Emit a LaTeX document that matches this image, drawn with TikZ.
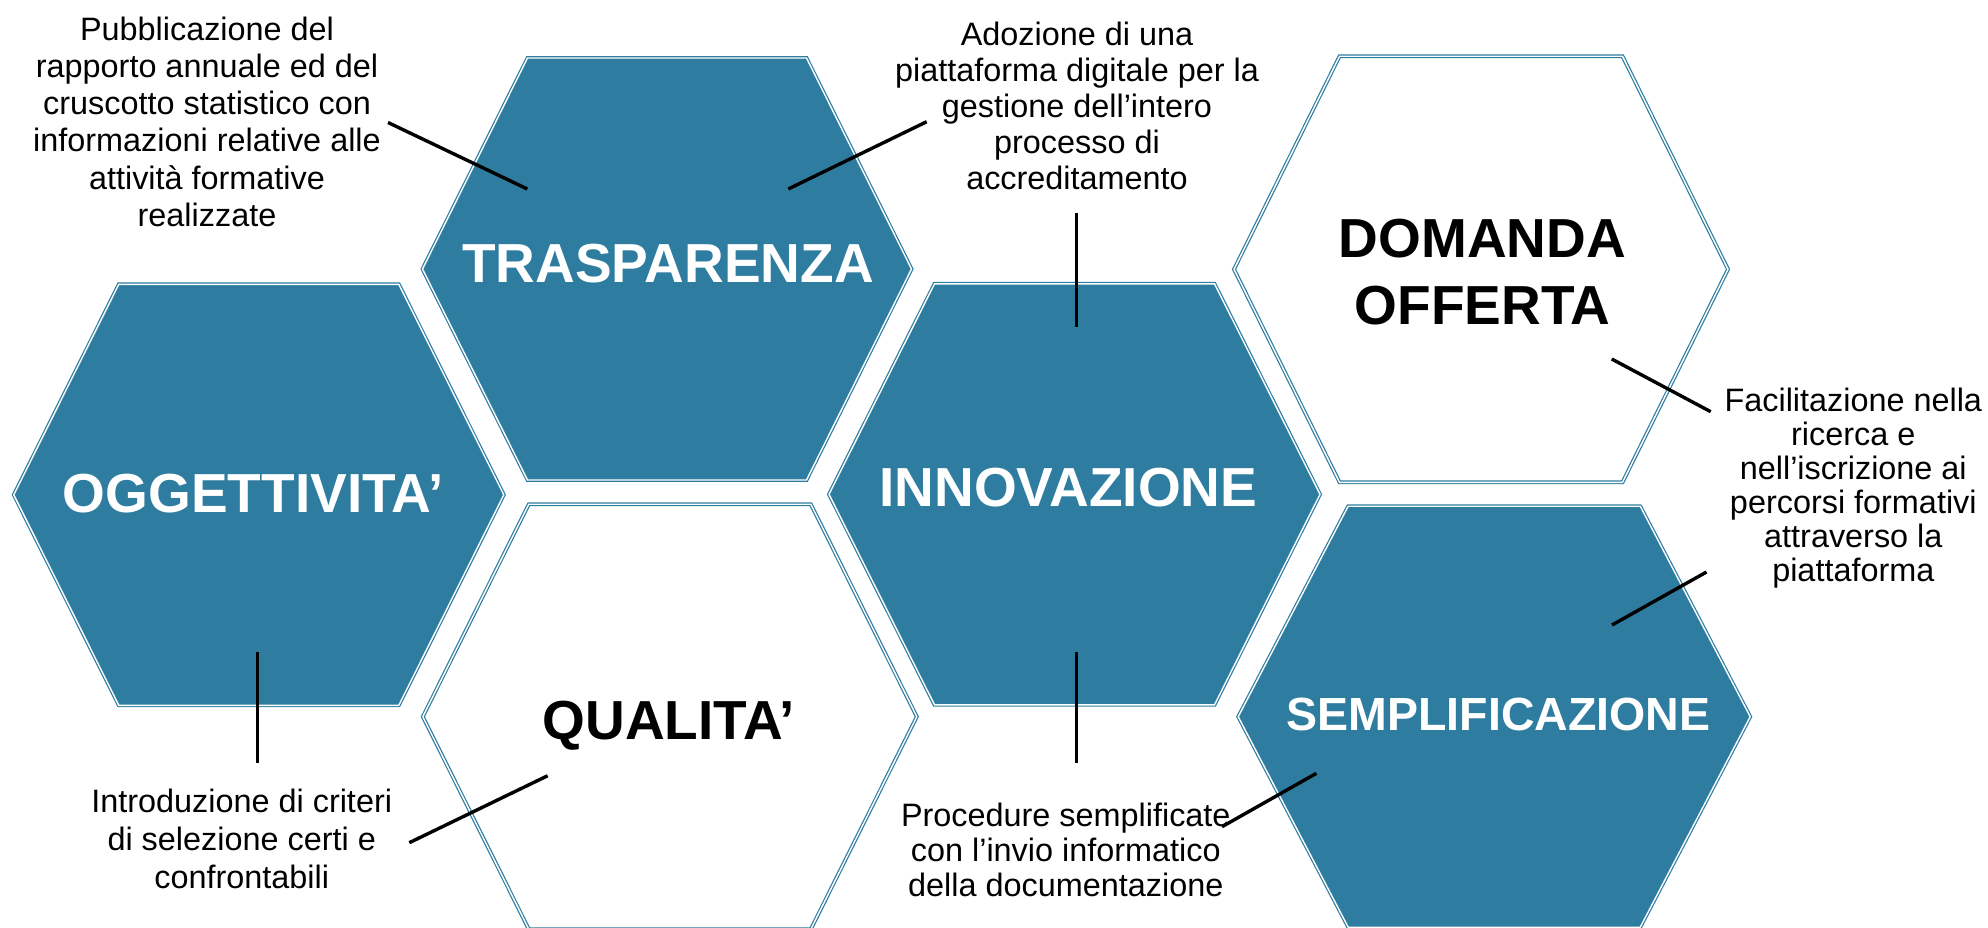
\documentclass[tikz,border=0pt]{standalone}
\usepackage{fontspec}
\setmainfont{Liberation Sans}
\definecolor{hexblue}{RGB}{46,125,160}
\tikzset{
  hexbase/.style={draw=hexblue, double=white, line width=1.2pt, double distance=1.4pt, line join=miter},
  hexfill/.style={hexbase, fill=hexblue},
  hexwhite/.style={hexbase, fill=white},
  biglabel/.style={font=\fontsize{55}{66.7}\selectfont\bfseries, inner sep=0pt, align=center},
  note/.style={font=\fontsize{32.4}{37}\selectfont, inner sep=0pt, align=center, text=black},
  leader/.style={line width=3.4pt, draw=black},
}
% cx cy hw tw hh style name
\newcommand{\hexa}[7]{%
  \draw[#6] (#1-#3,#2) -- (#1-#4,#2-#5) -- (#1+#4,#2-#5) -- (#1+#3,#2) -- (#1+#4,#2+#5) -- (#1-#4,#2+#5) -- cycle;
  \coordinate (#7) at (#1,#2);}
\begin{document}
\begin{tikzpicture}[x=1pt,y=-1pt]
\useasboundingbox (0,0) rectangle (1988,928);
\fill[white] (0,0) rectangle (1988,928);

% hexagons
\hexa{258.8}{494.8}{245}{140}{210.5}{hexfill}{hOgg}
\hexa{667}{269}{244.5}{139.5}{211}{hexfill}{hTras}
\hexa{669.8}{716.7}{247}{141}{212.5}{hexwhite}{hQual}
\hexa{1074.5}{494.3}{245.5}{140}{210.5}{hexfill}{hInno}
\hexa{1481}{269.3}{247}{141.5}{213}{hexwhite}{hDom}
\hexa{1494.2}{716.7}{256}{146}{210.5}{hexfill}{hSemp}

% hexagon labels (anchor=base = baseline of last line)
\node[biglabel, text=white, anchor=base] (lOgg) at (253.3,512.3) {OGGETTIVITA’};
\node[biglabel, text=white, anchor=base] (lTras) at (668,282.3) {TRASPARENZA};
\node[biglabel, text=black, anchor=base] (lQual) at (668.8,739.3) {QUALITA’};
\node[biglabel, text=white, anchor=base] (lInno) at (1068.3,506.7) {INNOVAZIONE};
\node[biglabel, text=black, anchor=base] (lDom) at (1482.5,324) {DOMANDA\\OFFERTA};
\node[biglabel, text=white, anchor=base, font=\fontsize{46.5}{55}\selectfont\bfseries] (lSemp) at (1498.6,730) {SEMPLIFICAZIONE};

% annotations (anchor=base = baseline of last line)
\node[note, anchor=base, font=\fontsize{32.4}{37.3}\selectfont] (tTras) at (207,226.5)
  {Pubblicazione del\\rapporto annuale ed del\\cruscotto statistico con\\informazioni relative alle\\attività formative\\realizzate};
\node[note, anchor=base, font=\fontsize{32.4}{35.8}\selectfont] (tInno) at (1077,189.2)
  {Adozione di una\\piattaforma digitale per la\\gestione dell’intero\\processo di\\accreditamento};
\node[note, anchor=base, font=\fontsize{32.4}{34}\selectfont] (tDom) at (1853.3,581.7)
  {Facilitazione nella\\ricerca e\\nell’iscrizione ai\\percorsi formativi\\attraverso la\\piattaforma};
\node[note, anchor=base, font=\fontsize{32.4}{38}\selectfont] (tQual) at (241.7,888.5)
  {Introduzione di criteri\\di selezione certi e\\confrontabili};
\node[note, anchor=base, font=\fontsize{32.4}{35}\selectfont] (tSemp) at (1065.8,896.7)
  {Procedure semplificate\\con l’invio informatico\\della documentazione};

% leader end points
\coordinate (c1a) at (388,122.5);   \coordinate (c1b) at (527.3,189);
\coordinate (c2a) at (788.3,189);   \coordinate (c2b) at (926.7,121.7);
\coordinate (c3a) at (1076.7,213);  \coordinate (c3b) at (1076.7,326.7);
\coordinate (c4a) at (1076.7,652.3);\coordinate (c4b) at (1076.7,763.3);
\coordinate (c5a) at (1611.7,359);  \coordinate (c5b) at (1710.7,411.7);
\coordinate (c6a) at (1612,625);    \coordinate (c6b) at (1706.5,572);
\coordinate (c7a) at (1316.4,773.3);\coordinate (c7b) at (1222,826.7);
\coordinate (c8a) at (547.7,775.7); \coordinate (c8b) at (409.3,842.7);
\coordinate (c9a) at (257.7,652.3); \coordinate (c9b) at (257.7,763);

\draw[leader] (c1a) -- (c1b);
\draw[leader] (c2a) -- (c2b);
\draw[leader] (c3a) -- (c3b);
\draw[leader] (c4a) -- (c4b);
\draw[leader] (c5a) -- (c5b);
\draw[leader] (c6a) -- (c6b);
\draw[leader] (c7a) -- (c7b);
\draw[leader] (c8a) -- (c8b);
\draw[leader] (c9a) -- (c9b);
\end{tikzpicture}
\end{document}
